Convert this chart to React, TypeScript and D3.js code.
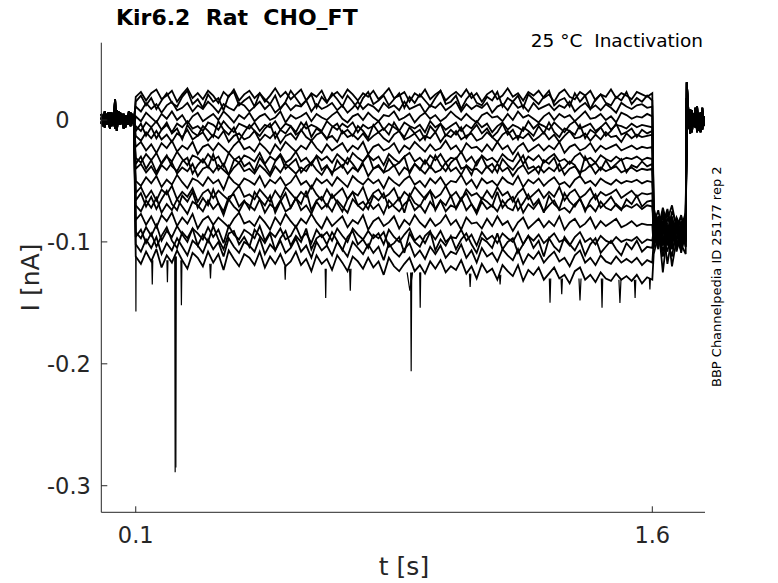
import React from 'react';
import * as d3 from 'd3';

// currents in pA
const yTicks = [0, -0.1, -0.2, -0.3];
const yTickLabels = ['0', '-0.1', '-0.2', '-0.3'];
const xTicks = [0.1, 1.6];
const xTickLabels = ['0.1', '1.6'];

// holding segment before the step (0 - 0.095 s)
const preA = [2, -5, 4, -3, 6, -6, 3, -4, 17, -9, 5, -4, 3, -6, 4, -2, 5, -5, 3, -4];
const preB = [-3, 4, -6, 5, -2, 6, -5, 2, -7, 8, -4, 6, -3, 5, -6, 3, -4, 6, -2, 4];
const preC = [5, -2, 7, -4, 3, -7, 6, -3, 4, -5, 7, -2, 5, -7, 2, -4, 7, -3, 5, -6];

// return to holding after 1.7 s
const endA = [31, 6, -9, 8, -5, 10, -8, 4, -10, 7, -4];
const endB = [18, -7, 9, -10, 5, -6, 11, -9, 6, -8, 3];
const endC = [10, 4, -11, 7, -3, 9, -10, 5, -7, 10, -5];

// step 0.1 - 1.6 s, one array per sweep
const step0 = [19,23,16,22,25,17,20,24,15,21,26,18,22,17,24,20,14,23,19,25,16,21,24,18,22,15,20,26,19,23,17,21,25,16,22,19,24,15,20,23,18,25,21,16,22,19,24,17,21,26,18,20,23,15,22,19,25,17,21,24,16,20,23,19,25,18,22,15,21,24,17,20,26,19,22,16,23,20,24,18,21,15,22,25,19,17,23,20,24,16,21,19,25,18,22,20,17,23,21,19,22];
const step1 = [11,7,14,9,13,6,12,15,8,10,14,7,12,9,15,11,6,13,10,8,14,12,7,11,15,9,13,6,10,14,8,12,11,16,7,13,9,11,14,8,12,6,10,15,9,13,11,7,14,10,12,8,15,9,11,13,6,12,10,14,8,11,15,7,13,9,12,10,14,6,11,13,8,15,10,12,7,14,9,11,13,8,12,10,15,7,11,14,9,12,8,13,10,6,14,11,9,12,13,10,11];
const step2 = [3,-1,6,2,-2,5,1,7,0,4,-3,3,6,-1,2,5,0,7,3,-2,4,1,6,-1,3,5,0,2,7,-2,4,1,3,6,-1,5,2,0,4,7,1,-2,3,5,0,6,2,-1,4,3,7,0,2,5,-2,3,6,1,4,-1,2,7,3,0,5,1,-2,4,6,2,3,-1,5,0,7,2,4,1,-2,3,6,0,5,2,4,-1,3,7,1,2,5,0,3,-2,6,4,1,3,2,5,3];
const step3 = [-5,-9,-2,-6,-1,-8,-4,-10,-3,-6,-1,-7,-5,-9,-2,-4,-8,-1,-6,-10,-3,-5,-7,-2,-9,-4,-6,-1,-8,-3,-5,-10,-2,-7,-4,-6,-9,-1,-5,-8,-3,-6,-2,-10,-4,-7,-5,-1,-8,-3,-6,-9,-2,-5,-7,-4,-10,-1,-6,-3,-8,-5,-2,-9,-4,-7,-1,-6,-3,-10,-5,-2,-8,-4,-6,-9,-1,-7,-3,-5,-8,-2,-6,-10,-4,-1,-7,-5,-3,-9,-6,-2,-8,-4,-5,-7,-3,-6,-4,-5,-6];
const step4 = [-13,-17,-10,-15,-9,-16,-12,-18,-11,-14,-8,-16,-13,-10,-17,-12,-15,-9,-18,-13,-11,-16,-14,-9,-17,-12,-15,-10,-19,-13,-11,-16,-8,-14,-17,-12,-10,-15,-13,-18,-9,-14,-12,-16,-11,-17,-13,-10,-15,-18,-12,-9,-16,-14,-11,-17,-13,-15,-10,-18,-12,-14,-9,-16,-13,-11,-17,-15,-10,-14,-18,-12,-9,-16,-13,-15,-11,-17,-14,-10,-16,-12,-18,-13,-9,-15,-14,-11,-17,-12,-16,-10,-14,-13,-18,-11,-15,-12,-14,-13,-12];
const step5 = [-22,-18,-25,-20,-27,-19,-23,-17,-26,-21,-24,-18,-28,-22,-20,-25,-19,-23,-27,-21,-17,-24,-22,-26,-19,-23,-28,-20,-25,-18,-22,-26,-21,-24,-17,-23,-27,-20,-25,-22,-19,-26,-21,-24,-18,-28,-22,-20,-25,-23,-19,-27,-21,-24,-18,-22,-26,-20,-25,-23,-17,-24,-21,-27,-19,-23,-22,-26,-20,-25,-18,-24,-21,-28,-22,-19,-26,-23,-20,-25,-21,-24,-18,-27,-22,-20,-25,-23,-19,-26,-21,-24,-22,-20,-25,-23,-21,-24,-22,-23,-22];
const step6 = [-31,-35,-28,-33,-27,-36,-30,-34,-26,-32,-37,-29,-31,-35,-28,-33,-30,-38,-27,-32,-35,-29,-31,-34,-27,-36,-30,-33,-28,-35,-32,-26,-34,-31,-37,-29,-33,-30,-35,-28,-32,-36,-27,-31,-34,-29,-33,-30,-37,-28,-32,-35,-30,-27,-34,-31,-36,-29,-33,-28,-35,-31,-32,-26,-34,-30,-37,-29,-33,-31,-35,-28,-32,-34,-27,-36,-30,-33,-29,-35,-31,-28,-34,-32,-36,-30,-27,-33,-31,-35,-29,-32,-34,-30,-33,-31,-32,-30,-33,-31,-32];
const step7 = [-40,-36,-43,-38,-45,-37,-41,-35,-44,-39,-42,-36,-46,-40,-38,-43,-37,-41,-45,-39,-35,-42,-40,-44,-37,-41,-46,-38,-43,-36,-40,-44,-39,-42,-35,-41,-45,-38,-43,-40,-37,-44,-39,-42,-36,-46,-40,-38,-43,-41,-37,-45,-39,-42,-36,-40,-44,-38,-43,-41,-35,-42,-39,-45,-37,-41,-40,-44,-38,-43,-36,-42,-39,-46,-40,-37,-44,-41,-38,-43,-39,-42,-36,-45,-40,-38,-43,-41,-37,-44,-39,-42,-40,-38,-43,-41,-39,-42,-40,-41,-40];
const step8 = [-50,-54,-47,-52,-46,-55,-49,-53,-45,-51,-56,-48,-50,-54,-47,-52,-49,-57,-46,-51,-54,-48,-50,-53,-46,-55,-49,-52,-47,-54,-51,-45,-53,-50,-56,-48,-52,-49,-54,-47,-51,-55,-46,-50,-53,-48,-52,-49,-56,-47,-51,-54,-49,-46,-53,-50,-55,-48,-52,-47,-54,-50,-51,-45,-53,-49,-56,-48,-52,-50,-54,-47,-51,-53,-46,-55,-49,-52,-48,-54,-50,-47,-53,-51,-55,-49,-46,-52,-50,-54,-48,-51,-53,-49,-52,-50,-51,-49,-52,-50,-51];
const step9 = [-60,-55,-64,-58,-66,-57,-61,-54,-65,-59,-63,-56,-67,-60,-57,-64,-58,-62,-66,-59,-54,-63,-61,-65,-57,-62,-67,-58,-64,-55,-60,-65,-59,-63,-54,-61,-66,-57,-64,-60,-56,-65,-59,-62,-55,-67,-60,-57,-64,-61,-56,-66,-59,-63,-55,-60,-65,-58,-64,-61,-54,-63,-59,-66,-57,-62,-60,-65,-58,-64,-55,-62,-59,-67,-60,-56,-65,-61,-57,-64,-59,-63,-55,-66,-60,-57,-64,-61,-56,-65,-59,-62,-60,-57,-64,-61,-58,-63,-60,-61,-60];
const step10 = [-70,-75,-66,-72,-64,-76,-69,-74,-65,-71,-77,-67,-70,-75,-66,-73,-68,-78,-65,-71,-75,-67,-70,-74,-65,-76,-69,-73,-66,-75,-72,-64,-74,-70,-77,-67,-73,-69,-75,-66,-71,-76,-65,-70,-74,-67,-73,-69,-77,-66,-71,-75,-69,-65,-74,-70,-76,-67,-73,-66,-75,-70,-72,-64,-74,-69,-77,-67,-73,-70,-75,-66,-72,-74,-65,-76,-69,-73,-67,-75,-70,-66,-74,-72,-76,-69,-65,-73,-70,-75,-67,-72,-74,-69,-73,-70,-72,-69,-73,-70,-71];
const step11 = [-82,-77,-86,-79,-88,-78,-83,-76,-87,-80,-85,-77,-89,-82,-79,-86,-80,-84,-88,-81,-76,-85,-83,-87,-79,-84,-90,-80,-86,-77,-83,-88,-81,-85,-77,-84,-89,-80,-87,-83,-79,-88,-82,-85,-78,-90,-83,-80,-87,-84,-79,-89,-82,-86,-78,-84,-88,-81,-87,-84,-78,-86,-82,-90,-80,-85,-84,-89,-81,-87,-79,-86,-83,-91,-84,-80,-89,-85,-81,-88,-83,-87,-79,-90,-84,-81,-88,-85,-80,-89,-83,-87,-84,-81,-88,-86,-83,-87,-85,-86,-86];
const step12 = [-92,-97,-88,-95,-86,-99,-91,-96,-87,-94,-100,-89,-93,-98,-88,-96,-90,-101,-87,-94,-98,-90,-93,-97,-87,-99,-92,-96,-89,-98,-95,-87,-97,-93,-101,-90,-96,-92,-99,-89,-95,-100,-89,-94,-98,-91,-97,-93,-102,-90,-96,-100,-94,-89,-99,-95,-101,-92,-98,-91,-100,-96,-97,-90,-99,-94,-103,-92,-98,-95,-101,-93,-97,-100,-92,-102,-95,-99,-94,-101,-97,-93,-100,-98,-103,-96,-92,-100,-97,-102,-95,-99,-101,-96,-100,-98,-99,-96,-101,-98,-99];
const step13 = [-102,-108,-98,-105,-96,-110,-101,-107,-97,-104,-111,-99,-103,-109,-98,-106,-100,-112,-97,-104,-109,-100,-103,-108,-97,-110,-102,-107,-99,-109,-105,-97,-108,-103,-113,-100,-107,-103,-111,-100,-106,-112,-100,-105,-110,-102,-109,-104,-115,-101,-108,-112,-106,-101,-112,-107,-114,-104,-110,-103,-113,-108,-110,-102,-113,-107,-117,-105,-112,-109,-116,-106,-111,-115,-106,-118,-110,-114,-108,-117,-112,-108,-116,-113,-120,-111,-107,-117,-113,-119,-111,-116,-118,-112,-117,-114,-117,-113,-119,-115,-117];
const step14 = [-112,-118,-108,-116,-106,-121,-111,-117,-107,-115,-122,-109,-113,-120,-108,-117,-110,-123,-107,-114,-120,-110,-113,-119,-108,-121,-112,-118,-110,-120,-116,-108,-119,-114,-124,-111,-118,-114,-123,-111,-117,-124,-112,-116,-122,-113,-121,-116,-127,-113,-120,-124,-118,-113,-124,-119,-126,-116,-122,-115,-125,-120,-123,-115,-126,-120,-130,-118,-125,-122,-131,-119,-124,-128,-119,-132,-123,-127,-121,-131,-126,-121,-130,-127,-134,-124,-121,-131,-127,-133,-125,-130,-132,-126,-131,-128,-132,-127,-134,-129,-131];
const step15 = [15,20,12,18,9,16,22,14,11,19,24,13,17,10,21,15,18,8,20,23,12,16,19,11,22,17,13,20,9,15,24,18,12,16,21,10,19,14,22,17,11,20,15,9,18,23,13,16,20,12,17,22,10,19,14,21,16,11,18,24,13,15,20,9,17,22,14,12,19,16,23,11,18,15,20,10,21,17,13,19,24,12,16,18,11,22,15,20,9,17,21,14,12,19,16,23,13,18,15,20,16];
const step16 = [-9,-3,-13,-6,-15,-8,-2,-11,-7,-16,-4,-10,-13,-5,-9,-14,-1,-8,-12,-6,-17,-10,-4,-9,-13,-7,-3,-15,-8,-11,-5,-12,-9,-2,-14,-7,-10,-16,-6,-3,-11,-8,-13,-5,-9,-15,-4,-10,-7,-12,-2,-9,-14,-6,-11,-8,-16,-5,-10,-3,-13,-8,-12,-6,-15,-9,-4,-11,-7,-14,-10,-3,-12,-8,-16,-6,-9,-13,-5,-11,-2,-10,-14,-7,-9,-12,-4,-15,-8,-11,-6,-13,-9,-3,-12,-10,-7,-14,-8,-11,-9];
const step17 = [-36,-30,-40,-33,-43,-35,-29,-38,-42,-34,-31,-44,-37,-32,-39,-28,-41,-36,-45,-33,-30,-38,-35,-42,-31,-37,-44,-34,-29,-40,-36,-32,-43,-38,-35,-30,-41,-37,-45,-33,-39,-31,-36,-42,-34,-28,-40,-37,-43,-32,-38,-35,-30,-44,-36,-41,-33,-39,-29,-37,-42,-35,-31,-40,-38,-45,-34,-30,-39,-36,-43,-32,-37,-41,-35,-29,-40,-38,-44,-33,-36,-31,-42,-39,-34,-37,-45,-30,-38,-35,-41,-33,-40,-36,-32,-43,-37,-39,-34,-38,-36];
const step18 = [-66,-60,-71,-63,-73,-65,-58,-69,-74,-62,-67,-59,-72,-64,-70,-57,-68,-75,-63,-61,-71,-66,-73,-59,-65,-70,-62,-76,-67,-60,-72,-64,-69,-58,-74,-66,-63,-71,-61,-68,-75,-65,-59,-70,-67,-73,-62,-66,-60,-72,-69,-64,-76,-61,-68,-71,-63,-58,-74,-66,-70,-62,-73,-65,-60,-69,-75,-64,-67,-71,-59,-72,-66,-63,-74,-68,-61,-70,-65,-76,-62,-69,-73,-60,-67,-71,-64,-75,-66,-61,-72,-68,-63,-70,-74,-65,-69,-62,-71,-67,-66];
const step19 = [-96,-90,-101,-93,-104,-95,-88,-99,-105,-92,-97,-89,-103,-94,-100,-87,-98,-106,-93,-91,-102,-96,-104,-90,-95,-101,-93,-107,-97,-91,-103,-95,-100,-89,-106,-97,-94,-102,-92,-99,-107,-96,-91,-102,-98,-105,-94,-97,-92,-104,-101,-96,-109,-93,-100,-104,-95,-91,-107,-98,-103,-95,-106,-98,-93,-102,-109,-97,-100,-105,-93,-106,-100,-97,-109,-102,-95,-105,-99,-112,-97,-104,-108,-96,-102,-107,-99,-111,-102,-97,-109,-104,-99,-106,-111,-101,-106,-99,-108,-104,-105];

// tail 1.6 - 1.7 s
const tail0 = [-78, -90, -72, -86, -95, -80, -88, -76];
const tail1 = [-85, -74, -93, -82, -70, -89, -79, -92];
const tail2 = [-92, -81, -99, -86, -104, -83, -96, -88];
const tail3 = [-72, -88, -79, -94, -75, -85, -98, -81];
const tail4 = [-96, -84, -102, -90, -79, -99, -87, -93];
const tail5 = [-80, -95, -86, -73, -91, -82, -100, -85];
const tail6 = [-88, -100, -78, -94, -84, -106, -90, -97];
const tail7 = [-101, -86, -95, -108, -89, -97, -83, -104];
const tail8 = [-76, -91, -84, -98, -80, -93, -87, -79];
const tail9 = [-94, -80, -103, -88, -97, -82, -109, -91];
const tail10 = [-84, -97, -75, -92, -101, -86, -94, -99];
const tail11 = [-105, -90, -112, -96, -84, -108, -93, -100];
const tail12 = [-90, -104, -86, -118, -95, -88, -102, -110];
const tail13 = [-99, -85, -125, -92, -106, -96, -89, -104];
const tail14 = [-110, -95, -102, -88, -120, -98, -107, -93];
const tail15 = [-82, -96, -77, -90, -101, -85, -93, -80];
const tail16 = [-95, -79, -88, -103, -84, -92, -78, -97];
const tail17 = [-87, -102, -91, -76, -98, -89, -105, -83];
const tail18 = [-100, -87, -108, -93, -82, -104, -95, -89];
const tail19 = [-91, -106, -83, -99, -112, -90, -101, -95];

// sharp inward events (s, pA)
const spikeT = [0.1005, 0.148, 0.192, 0.2145, 0.2165, 0.2326, 0.317, 0.534, 0.6516, 0.723, 0.896, 0.8998, 0.926, 1.071, 1.158, 1.303, 1.337, 1.39, 1.454, 1.506, 1.55, 1.593];
const spikeBase = [-112, -115, -115, -112, -112, -115, -118, -120, -122, -122, -125, -125, -125, -126, -127, -130, -130, -130, -130, -131, -131, -130];
const spikePeak = [-157, -135, -133, -289, -285, -152, -130, -131, -146, -140, -140, -206, -154, -137, -135, -150, -143, -148, -154, -150, -146, -139];
const spikeHalfW = [0.0006, 0.0015, 0.0015, 0.0012, 0.0012, 0.0015, 0.002, 0.0015, 0.0015, 0.002, 0.008, 0.0015, 0.0015, 0.002, 0.002, 0.002, 0.002, 0.003, 0.002, 0.003, 0.002, 0.0015];

const pres = [preA, preB, preC];
const ends = [endA, endB, endC];
const steps = [step0, step1, step2, step3, step4, step5, step6, step7, step8, step9, step10, step11, step12, step13, step14, step15, step16, step17, step18, step19];
const tails = [tail0, tail1, tail2, tail3, tail4, tail5, tail6, tail7, tail8, tail9, tail10, tail11, tail12, tail13, tail14, tail15, tail16, tail17, tail18, tail19];

const W = 778;
const H = 583;
const FONT = '"DejaVu Sans", sans-serif';
const AX = '#262626';

const x = d3.scaleLinear().domain([0, 1.753]).range([101.3, 705]);
const y = d3.scaleLinear().domain([-0.3218, 0.0634]).range([512.3, 42.7]);

const line = d3
  .line<[number, number]>()
  .x((d) => x(d[0]))
  .y((d) => y(d[1] / 1000));

function sweep(i: number): [number, number][] {
  const pre = pres[i % 3];
  const end = ends[i % 3];
  const st = steps[i];
  const tl = tails[i];
  const tStep = d3.scaleLinear().domain([0, st.length - 1]).range([0.1, 1.6]);
  const tTail = d3.scaleLinear().domain([0, tl.length - 1]).range([1.604, 1.697]);
  const tEnd = d3.scaleLinear().domain([0, end.length - 1]).range([1.7, 1.75]);
  const pts: [number, number][] = [];
  pre.forEach((v, k) => pts.push([k * 0.005, v]));
  st.forEach((v, k) => pts.push([tStep(k), v]));
  tl.forEach((v, k) => pts.push([tTail(k), v]));
  end.forEach((v, k) => pts.push([tEnd(k), v]));
  return pts;
}

export default function App() {
  const x0 = x.range()[0];
  const x1 = x.range()[1];
  const yTop = y.range()[1];
  const yBot = y.range()[0];
  return (
    <svg
      width={W}
      height={H}
      style={{ position: 'absolute', left: 0, top: 0, background: '#fff' }}
      fontFamily={FONT}
    >
      <g fill="none" stroke="#000" strokeWidth={1.8} strokeLinejoin="miter" strokeMiterlimit={3}>
        {steps.map((_, i) => (
          <path key={i} d={line(sweep(i)) || ''} />
        ))}
      </g>
      <g fill="none" stroke="#000" strokeWidth={1.2}>
        {spikeT.map((t, i) => (
          <path
            key={'s' + i}
            d={
              line([
                [t - spikeHalfW[i], spikeBase[i]],
                [t, spikePeak[i]],
                [t + spikeHalfW[i], spikeBase[i]],
              ]) || ''
            }
          />
        ))}
      </g>

      {/* axes */}
      <g stroke={AX} strokeWidth={1} fill="none">
        <line x1={x0} x2={x0} y1={yTop} y2={yBot} />
        <line x1={x0} x2={x1} y1={yBot} y2={yBot} />
        {yTicks.map((t) => (
          <line key={t} x1={x0} x2={x0 + 6} y1={y(t)} y2={y(t)} />
        ))}
        {xTicks.map((t) => (
          <line key={t} x1={x(t)} x2={x(t)} y1={yBot} y2={yBot - 6} />
        ))}
      </g>
      <g fill={AX} fontSize={22.5}>
        {yTicks.map((t, i) => (
          <text key={t} x={47} y={y(t)} dy="0.36em" style={{ whiteSpace: 'pre' }}>
            {yTickLabels[i].startsWith('-') ? null : <tspan fillOpacity={0}>-</tspan>}
            {yTickLabels[i]}
          </text>
        ))}
        {xTicks.map((t, i) => (
          <text key={t} x={x(t)} y={543} textAnchor="middle">
            {xTickLabels[i]}
          </text>
        ))}
      </g>
      <text x={404} y={575} textAnchor="middle" fontSize={25} fill={AX}>
        t [s]
      </text>
      <text
        transform={`translate(39, ${(yTop + yBot) / 2}) rotate(-90)`}
        textAnchor="middle"
        fontSize={25}
        fill={AX}
      >
        I [nA]
      </text>

      <text x={116} y={25} fontSize={22} fontWeight="bold" fill="#000" style={{ whiteSpace: 'pre' }}>
        {'Kir6.2  Rat  CHO_FT'}
      </text>
      <text x={703} y={47} fontSize={18.5} textAnchor="end" fill="#000" style={{ whiteSpace: 'pre' }}>
        {'25 °C  Inactivation'}
      </text>
      <text
        transform="translate(720.5, 387) rotate(-90)"
        fontSize={13}
        fill="#000"
      >
        BBP Channelpedia ID 25177 rep 2
      </text>
    </svg>
  );
}
